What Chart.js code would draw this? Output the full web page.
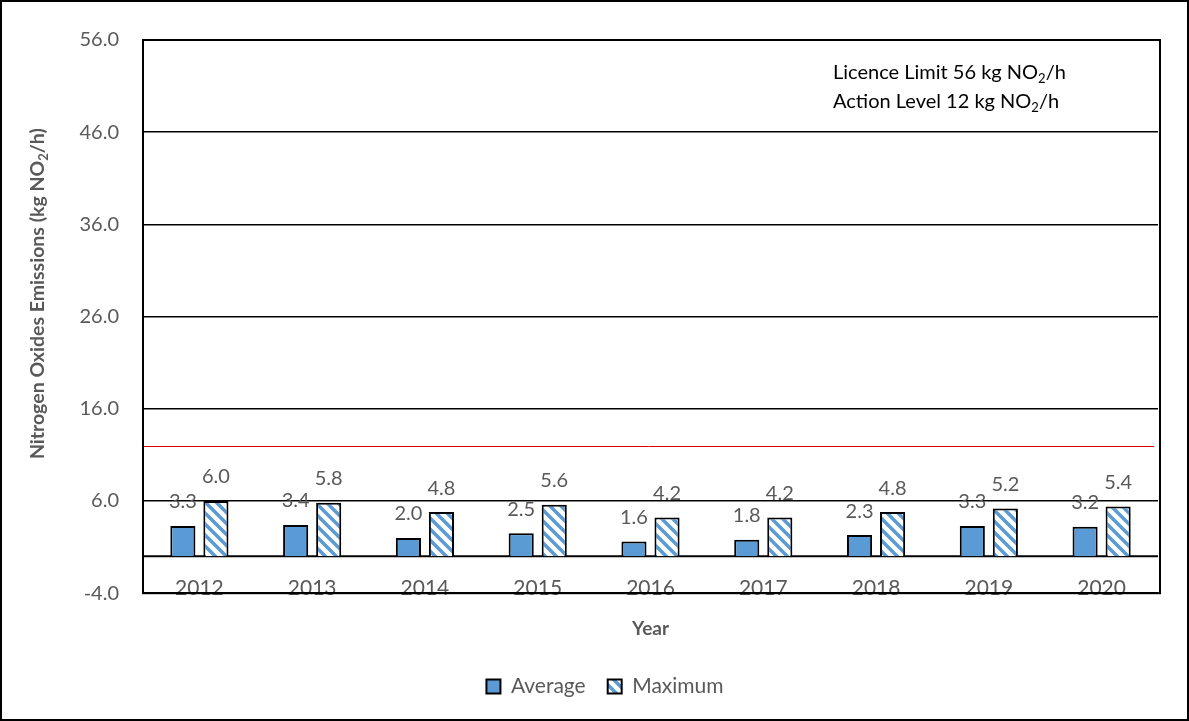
<!DOCTYPE html>
<html>
<head>
<meta charset="utf-8">
<title>Nitrogen Oxides Emissions</title>
<script src="https://cdn.jsdelivr.net/npm/chart.js@4.4.1/dist/chart.umd.min.js"></script>
<style>
  html, body { margin: 0; padding: 0; background: #fff; }
  #wrap { width: 1189px; height: 721px; position: relative; }
</style>
</head>
<body>
<div id="wrap"><canvas id="noxChart"></canvas></div>
<script>
const years = ['2012', '2013', '2014', '2015', '2016', '2017', '2018', '2019', '2020'];
const averageValues = [3.3, 3.4, 2.0, 2.5, 1.6, 1.8, 2.3, 3.3, 3.2];
const maximumValues = [6.0, 5.8, 4.8, 5.6, 4.2, 4.2, 4.8, 5.2, 5.4];
const yTicks = { min: -4, max: 56, step: 10 };
const zeroLevel = 0;
const actionLevel = 12;
const noteLines = [['Licence Limit 56 kg NO', '2', '/h'], ['Action Level 12 kg NO', '2', '/h']];
const yTitle = ['Nitrogen Oxides Emissions (kg NO', '2', '/h)'];

const FONT = 'Lato, "Open Sans", sans-serif';
const GREY = '#595959';
const BLUE = '#5b9bd5';

// diagonal blue/white hatch for the maximum bars
function makeHatch() {
  const s = 11;
  const c = document.createElement('canvas');
  c.width = s; c.height = s;
  const g = c.getContext('2d');
  g.fillStyle = '#fff';
  g.fillRect(0, 0, s, s);
  g.strokeStyle = BLUE;
  g.lineWidth = 3.5;
  g.beginPath();
  g.moveTo(-s / 2, s / 2); g.lineTo(s / 2, s * 1.5);
  g.moveTo(0, 0); g.lineTo(s, s);
  g.moveTo(s / 2, -s / 2); g.lineTo(s * 1.5, s / 2);
  g.stroke();
  return g.createPattern(c, 'repeat');
}
const hatch = makeHatch();

// text with a subscript part: [before, sub, after]
function drawSubText(ctx, parts, x, y, size, weight, align) {
  const main = weight + ' ' + size + 'px ' + FONT;
  const small = weight + ' ' + Math.round(size * 0.65) + 'px ' + FONT;
  ctx.font = main;
  const w0 = ctx.measureText(parts[0]).width;
  const w2 = ctx.measureText(parts[2]).width;
  ctx.font = small;
  const w1 = ctx.measureText(parts[1]).width;
  const total = w0 + w1 + w2;
  let sx = align === 'center' ? x - total / 2 : x;
  ctx.textAlign = 'left';
  ctx.textBaseline = 'middle';
  ctx.font = main;
  ctx.fillText(parts[0], sx, y);
  ctx.font = small;
  ctx.fillText(parts[1], sx + w0, y + size * 0.3);
  ctx.font = main;
  ctx.fillText(parts[2], sx + w0 + w1, y);
}

const extras = {
  id: 'extras',
  beforeDraw(chart) {
    const ctx = chart.ctx;
    const area = chart.chartArea;
    const x = chart.scales.x;
    ctx.save();
    ctx.fillStyle = '#fff';
    ctx.fillRect(0, 0, chart.width, chart.height);
    // year labels sit just above the bottom frame line
    ctx.fillStyle = GREY;
    ctx.font = '21px ' + FONT;
    ctx.textAlign = 'center';
    ctx.textBaseline = 'alphabetic';
    years.forEach((yr, i) => ctx.fillText(yr, x.getPixelForValue(i), area.bottom + 2));
    ctx.restore();
  },
  beforeDatasetsDraw(chart) {
    const ctx = chart.ctx;
    const area = chart.chartArea;
    const y = chart.scales.y;
    ctx.save();
    // zero line
    const y0 = y.getPixelForValue(zeroLevel);
    ctx.strokeStyle = '#000';
    ctx.lineWidth = 2;
    ctx.beginPath();
    ctx.moveTo(area.left, y0); ctx.lineTo(area.right, y0);
    ctx.stroke();
    // action level
    const yA = Math.round(y.getPixelForValue(actionLevel)) + 0.5;
    ctx.strokeStyle = '#e00000';
    ctx.lineWidth = 1;
    ctx.beginPath();
    ctx.moveTo(area.left, yA); ctx.lineTo(area.right - 4, yA);
    ctx.stroke();
    // plot frame
    ctx.strokeStyle = '#000';
    ctx.lineWidth = 2;
    ctx.strokeRect(area.left, area.top, area.right - area.left + 2, area.bottom - area.top);
    ctx.restore();
  },
  afterDatasetsDraw(chart) {
    const ctx = chart.ctx;
    ctx.save();
    ctx.fillStyle = GREY;
    ctx.font = '20px ' + FONT;
    ctx.textAlign = 'center';
    ctx.textBaseline = 'middle';
    chart.data.datasets.forEach((ds, di) => {
      chart.getDatasetMeta(di).data.forEach((bar, i) => {
        ctx.fillText(ds.data[i].toFixed(1), bar.x, bar.y - 24);
      });
    });
    // notes top right
    ctx.fillStyle = '#000';
    drawSubText(ctx, noteLines[0], 833, 73, 20, 'normal', 'left');
    drawSubText(ctx, noteLines[1], 833, 102, 20, 'normal', 'left');
    // rotated y title
    const area = chart.chartArea;
    ctx.translate(38, (area.top + area.bottom) / 2 - 23);
    ctx.rotate(-Math.PI / 2);
    ctx.fillStyle = GREY;
    drawSubText(ctx, yTitle, 0, 0, 19.5, 'bold', 'center');
    ctx.restore();
  },
  afterDraw(chart) {
    const ctx = chart.ctx;
    ctx.save();
    ctx.strokeStyle = '#000';
    ctx.lineWidth = 2;
    ctx.strokeRect(1, 1, chart.width - 2, chart.height - 2);
    ctx.restore();
  }
};

new Chart(document.getElementById('noxChart'), {
  type: 'bar',
  data: {
    labels: years,
    datasets: [
      { label: 'Average', data: averageValues, backgroundColor: BLUE, borderColor: '#000', borderWidth: 2,
        categoryPercentage: 0.586, barPercentage: 0.76 },
      { label: 'Maximum', data: maximumValues, backgroundColor: hatch, borderColor: '#000', borderWidth: 2,
        categoryPercentage: 0.586, barPercentage: 0.76 }
    ]
  },
  options: {
    responsive: true,
    maintainAspectRatio: false,
    animation: false,
    layout: { padding: { top: 40, right: 31, bottom: 14, left: 52 } },
    plugins: {
      legend: {
        position: 'bottom',
        labels: { boxWidth: 14, boxHeight: 14, padding: 22, color: GREY, font: { family: FONT, size: 21 } }
      },
      tooltip: { enabled: false }
    },
    scales: {
      x: {
        grid: { display: false },
        border: { display: false },
        ticks: { display: false },
        title: { display: true, text: 'Year', color: GREY, font: { family: FONT, size: 19, weight: 'bold' },
                 padding: { top: 16, bottom: 14 } }
      },
      y: {
        min: yTicks.min,
        max: yTicks.max,
        afterFit(scale) { scale.width = 91; },
        ticks: {
          stepSize: yTicks.step,
          padding: 24,
          color: GREY,
          font: { family: FONT, size: 20 },
          callback: v => v.toFixed(1)
        },
        grid: { color: '#000', lineWidth: 1.5, drawTicks: false },
        border: { color: '#000', width: 2 }
      }
    }
  },
  plugins: [extras]
});
</script>
</body>
</html>
